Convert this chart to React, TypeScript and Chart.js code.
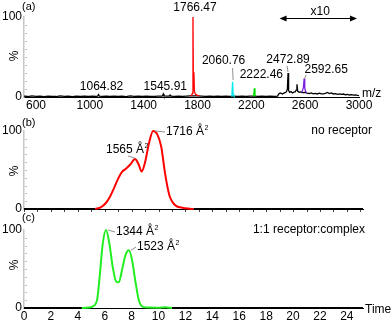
import React, { useEffect, useRef } from "react";
import { Chart, registerables } from "chart.js";

Chart.register(...registerables);

const FONT = "'Liberation Sans', Arial, Helvetica, sans-serif";

// ---------- Panel (a): mass spectrum ----------
const msMz = [
  511, 540, 570, 600, 630, 660, 690, 720, 750, 780,
  810, 840, 870, 900, 930, 960, 990, 1020, 1045, 1058,
  1064.8, 1071, 1090, 1120, 1150, 1180, 1210, 1240, 1270, 1300,
  1330, 1360, 1390, 1420, 1450, 1480, 1510, 1535, 1541, 1545.9,
  1551, 1575, 1590, 1596, 1602, 1630, 1660, 1690, 1720, 1745,
  1770, 1800, 1830, 1860, 1890, 1920, 1950, 1980, 2010, 2040,
  2070, 2100, 2130, 2160, 2190, 2220, 2250, 2280, 2310, 2340,
  2370, 2395, 2405, 2415, 2430, 2445, 2455, 2462, 2468, 2472.9,
  2477, 2485, 2495, 2505, 2515, 2525, 2533, 2539, 2545, 2555,
  2565, 2580, 2600, 2615, 2630, 2645, 2660, 2675, 2690, 2705,
  2720, 2735, 2750, 2765, 2780, 2795, 2810, 2825, 2840, 2855,
  2870, 2885, 2900, 2915, 2930, 2945, 2960, 2975, 2990, 3000,
];
const msInt = [
  1.0, 0.6, 1.3, 0.8, 1.1, 0.5, 1.2, 0.9, 0.6, 1.3,
  0.8, 1.0, 0.5, 1.2, 0.7, 1.1, 0.6, 1.0, 0.9, 1.2,
  3.0, 1.2, 0.7, 1.1, 0.6, 1.2, 0.8, 1.0, 0.5, 1.3,
  0.8, 1.1, 0.6, 1.2, 0.9, 0.7, 1.2, 1.0, 1.5, 3.8,
  1.4, 1.0, 1.2, 2.4, 1.0, 0.7, 1.2, 0.8, 1.1, 1.3,
  1.5, 1.4, 1.0, 0.7, 1.2, 0.8, 1.0, 0.6, 1.1, 0.9,
  1.2, 0.7, 1.1, 0.6, 1.0, 1.2, 0.8, 1.1, 0.6, 1.0,
  0.8, 1.2, 4.0, 5.0, 3.8, 5.2, 5.8, 7.0, 10.0, 30.0,
  8.0, 5.8, 6.8, 5.0, 6.0, 6.3, 8.5, 16.0, 7.0, 5.8,
  6.4, 5.4, 5.8, 4.8, 4.2, 5.0, 4.0, 4.6, 3.8, 4.8,
  4.0, 3.9, 4.5, 5.6, 4.2, 5.0, 3.8, 4.3, 3.4, 3.9,
  3.2, 3.7, 2.8, 3.3, 2.5, 3.0, 2.3, 2.7, 2.0, 1.6,
];
const redMz = [1748, 1758, 1763, 1766.47, 1769.5, 1773.5, 1777, 1785, 1800, 1815];
const redInt = [1.3, 2.5, 5, 100, 12, 31, 7, 3.5, 2, 1.4];
const cyanMz = [2050, 2056, 2060.76, 2065, 2071];
const cyanInt = [1.0, 3, 19, 3, 1.0];
const greenMz = [2212, 2218, 2222.46, 2227, 2233];
const greenInt = [1.1, 2.5, 11, 2.5, 1.0];
const purpleMz = [2575, 2582, 2587, 2592.65, 2597, 2603, 2612];
const purpleInt = [6.0, 9, 12, 23, 11, 7, 5.5];

const msTicks = [600, 1000, 1400, 1800, 2200, 2600, 3000];
const peakMz = [1064.82, 1545.91, 1766.47, 2060.76, 2222.46, 2472.89, 2592.65];
const peakText = ["1064.82", "1545.91", "1766.47", "2060.76", "2222.46", "2472.89", "2592.65"];
const zoomText = "x10";
const zoomRange = [2410, 2985];

// ---------- Panel (b): no receptor ----------
const timeB = [5.3, 5.7, 6.1, 6.4, 6.7, 7.0, 7.3, 7.6, 7.9, 8.25, 8.5, 8.75, 9.0, 9.3, 9.6, 9.9, 10.2, 10.5, 10.8, 11.0, 11.3, 11.7, 12.2, 12.6];
const intB = [0, 2, 8, 16, 27, 39, 48, 52, 57, 64, 58, 48, 60, 85, 100, 96, 80, 44, 18, 10, 4, 2, 0.5, 0];
const areaB = ["1565", "1716"];
const areaBAt = [8.25, 9.6];
const captionB = "no receptor";

// ---------- Panel (c): 1:1 receptor:complex ----------
const timeC = [4.3, 4.8, 5.2, 5.45, 5.65, 5.85, 6.1, 6.35, 6.6, 6.85, 7.05, 7.3, 7.55, 7.8, 8.05, 8.3, 8.55, 8.85, 9.3, 10.0, 10.5, 11.0];
const intC = [0, 0.5, 3, 12, 45, 82, 100, 82, 52, 34, 33, 50, 68, 74, 60, 32, 9, 1.5, 0.5, 0.3, 1, 0];
const areaC = ["1344", "1523"];
const areaCAt = [6.1, 7.8];
const captionC = "1:1 receptor:complex";

const timeTicks = [0, 2, 4, 6, 8, 10, 12, 14, 16, 18, 20, 22, 24];
const timeMax = 25.2;
const yTicks = [0, 100];

// ---------- helpers ----------
const pts = (xs: number[], ys: number[]) => xs.map((x, i) => ({ x, y: ys[i] }));

function txt(ctx: CanvasRenderingContext2D, s: string, x: number, y: number, align: CanvasTextAlign = "left", size = 12) {
  ctx.save();
  ctx.font = `${size}px ${FONT}`;
  ctx.fillStyle = "#000";
  ctx.textAlign = align;
  ctx.textBaseline = "middle";
  ctx.fillText(s, x, y);
  ctx.restore();
}
function areaTxt(ctx: CanvasRenderingContext2D, s: string, x: number, y: number) {
  ctx.save();
  ctx.font = `12px ${FONT}`;
  ctx.fillStyle = "#000";
  ctx.textAlign = "left";
  ctx.textBaseline = "middle";
  const main = s + " Å";
  ctx.fillText(main, x, y);
  const w = ctx.measureText(main).width;
  ctx.font = `7px ${FONT}`;
  ctx.fillText("2", x + w + 0.5, y - 4);
  ctx.restore();
}
function seg(ctx: CanvasRenderingContext2D, x1: number, y1: number, x2: number, y2: number, color = "#909090", w = 1) {
  ctx.save();
  ctx.strokeStyle = color;
  ctx.lineWidth = w;
  ctx.beginPath();
  ctx.moveTo(x1, y1);
  ctx.lineTo(x2, y2);
  ctx.stroke();
  ctx.restore();
}
function pct(ctx: CanvasRenderingContext2D, x: number, y: number) {
  ctx.save();
  ctx.translate(x, y);
  ctx.rotate(-Math.PI / 2);
  ctx.font = `12px ${FONT}`;
  ctx.fillStyle = "#000";
  ctx.textAlign = "center";
  ctx.textBaseline = "middle";
  ctx.fillText("%", 0, 0);
  ctx.restore();
}
function yMinor(ctx: CanvasRenderingContext2D, y: any, left: number) {
  for (let v = 10; v < 100; v += 10) {
    const py = Math.round(y.getPixelForValue(v)) + 0.5;
    seg(ctx, left + 1, py, left + 3, py, "#bdbdbd", 1);
  }
}
function xMinor(ctx: CanvasRenderingContext2D, x: any, bottom: number, from: number, to: number, step: number) {
  for (let v = from; v <= to + 1e-6; v += step) {
    const px = Math.round(x.getPixelForValue(v)) + 0.5;
    seg(ctx, px, bottom + 1, px, bottom + 3, "#444", 1);
  }
}

function yScale(): any {
  return {
    type: "linear",
    min: 0,
    max: 100,
    afterFit: (s: any) => { s.width = 24; },
    afterBuildTicks: (s: any) => { s.ticks = yTicks.map((v) => ({ value: v })); },
    grid: { display: false, drawTicks: false },
    border: { display: true, color: "#c6c6c6", width: 1.5 },
    ticks: { padding: 2, color: "#000", font: { family: FONT, size: 12 }, callback: (v: any) => String(v) },
  };
}
function xScale(min: number, max: number, ticks: number[], h: number, showLabels: boolean): any {
  return {
    type: "linear",
    min,
    max,
    afterFit: (s: any) => { s.height = h; },
    afterBuildTicks: (s: any) => { s.ticks = ticks.map((v) => ({ value: v })); },
    grid: { display: false, drawTicks: false },
    border: { display: true, color: "#000", width: 1 },
    ticks: {
      display: showLabels,
      padding: 1,
      autoSkip: false,
      maxRotation: 0,
      color: "#000",
      font: { family: FONT, size: 12 },
      callback: (v: any) => String(v),
    },
  };
}
function ds(data: any[], color: string, width: number, smooth: boolean): any {
  return {
    data,
    borderColor: color,
    backgroundColor: color,
    borderWidth: width,
    pointRadius: 0,
    fill: false,
    clip: false,
    tension: 0,
    cubicInterpolationMode: smooth ? "monotone" : "default",
  };
}
function baseOpts(padTop: number, padRight: number, padBottom: number, scales: any, plugin: any): any {
  return {
    type: "line",
    options: {
      responsive: false,
      animation: false,
      events: [],
      layout: { padding: { top: padTop, right: padRight, bottom: padBottom, left: 0 } },
      plugins: { legend: { display: false }, tooltip: { enabled: false } },
      scales,
    },
    plugins: [plugin],
  };
}

function configA(): any {
  const cfg = baseOpts(17, 33, 210, { x: xScale(511, 3000, msTicks, 15, true), y: yScale() }, {
    id: "annA",
    afterDraw(chart: any) {
      const { ctx, chartArea: a, scales: { x, y } } = chart;
      yMinor(ctx, y, a.left);
      txt(ctx, "(a)", 22, 7, "left", 11);
      pct(ctx, 15, 56);
      txt(ctx, "m/z", 362, 94, "left", 12);
      const dx = [3, 2, 2, -9, 7, 0, 22];
      const ty = [87, 87, 8, 61, 75, 60, 70];
      peakText.forEach((s, i) => txt(ctx, s, x.getPixelForValue(peakMz[i]) + dx[i], ty[i], "center", 12));
      const p3 = x.getPixelForValue(peakMz[3]);
      seg(ctx, p3, 68, p3 + 0.5, 80);
      const p5 = x.getPixelForValue(peakMz[5]);
      seg(ctx, p5 - 1, 66, p5, 72);
      const p6 = x.getPixelForValue(peakMz[6]);
      seg(ctx, p6 + 2, 75, p6, 79);
      // x10 double arrow
      const ax1 = x.getPixelForValue(zoomRange[0]);
      const ax2 = x.getPixelForValue(zoomRange[1]);
      const ay = 18.5;
      seg(ctx, ax1 + 4, ay, ax2 - 4, ay, "#000", 1);
      ctx.save();
      ctx.fillStyle = "#000";
      ctx.beginPath();
      ctx.moveTo(ax1, ay); ctx.lineTo(ax1 + 7, ay - 3); ctx.lineTo(ax1 + 7, ay + 3); ctx.closePath(); ctx.fill();
      ctx.beginPath();
      ctx.moveTo(ax2, ay); ctx.lineTo(ax2 - 7, ay - 3); ctx.lineTo(ax2 - 7, ay + 3); ctx.closePath(); ctx.fill();
      ctx.restore();
      txt(ctx, zoomText, (ax1 + ax2) / 2 + 2, 12, "center", 12);
    },
  });
  cfg.data = {
    datasets: [
      ds(pts(redMz, redInt), "#ff0000", 1.3, false),
      ds(pts(cyanMz, cyanInt), "#00e8f0", 1.3, false),
      ds(pts(greenMz, greenInt), "#00e000", 1.3, false),
      ds(pts(purpleMz, purpleInt), "#7a1fe0", 1.3, false),
      ds(pts(msMz, msInt), "#000000", 1.3, false),
    ],
  };
  return cfg;
}

function configB(): any {
  const cfg = baseOpts(131, 29, 107, { x: xScale(0, timeMax, timeTicks, 6, false), y: yScale() }, {
    id: "annB",
    afterDraw(chart: any) {
      const { ctx, chartArea: a, scales: { x, y } } = chart;
      yMinor(ctx, y, a.left);
      xMinor(ctx, x, a.bottom, 0, 25, 1);
      txt(ctx, "(b)", 22, 123, "left", 11);
      pct(ctx, 15, 171);
      const i0 = timeB.indexOf(areaBAt[0]);
      const i1 = timeB.indexOf(areaBAt[1]);
      seg(ctx, 128, 156, x.getPixelForValue(areaBAt[0]), y.getPixelForValue(intB[i0]) - 1);
      areaTxt(ctx, areaB[0], 106, 150);
      seg(ctx, x.getPixelForValue(areaBAt[1]) + 2, y.getPixelForValue(intB[i1]), 165, 132);
      areaTxt(ctx, areaB[1], 166, 132);
      txt(ctx, captionB, 372, 131, "right", 12);
    },
  });
  cfg.data = {
    datasets: [
      ds(pts(timeB, intB), "#ff0000", 2, true),
      ds([{ x: 0, y: 0 }, { x: timeB[0], y: 0 }], "#000", 2, false),
      ds([{ x: timeB[timeB.length - 1], y: 0 }, { x: timeMax, y: 0 }], "#000", 2, false),
    ],
  };
  return cfg;
}

function configC(): any {
  const cfg = baseOpts(230, 29, 0, { x: xScale(0, timeMax, timeTicks, 14, true), y: yScale() }, {
    id: "annC",
    afterDraw(chart: any) {
      const { ctx, chartArea: a, scales: { x, y } } = chart;
      yMinor(ctx, y, a.left);
      txt(ctx, "(c)", 22, 218, "left", 11);
      pct(ctx, 15, 265);
      const i0 = timeC.indexOf(areaCAt[0]);
      const i1 = timeC.indexOf(areaCAt[1]);
      seg(ctx, x.getPixelForValue(areaCAt[0]) + 2, y.getPixelForValue(intC[i0]), 115, 232);
      areaTxt(ctx, areaC[0], 116, 232);
      seg(ctx, x.getPixelForValue(areaCAt[1]) + 2, y.getPixelForValue(intC[i1]), 136, 247);
      areaTxt(ctx, areaC[1], 137, 247);
      txt(ctx, captionC, 365, 230, "right", 12);
      txt(ctx, "Time", 365, 310, "left", 12);
    },
  });
  cfg.data = {
    datasets: [
      ds(pts(timeC, intC), "#22ee22", 2, true),
      ds([{ x: 0, y: 0 }, { x: timeC[0], y: 0 }], "#000", 2, false),
      ds([{ x: timeC[timeC.length - 1], y: 0 }, { x: timeMax, y: 0 }], "#000", 2, false),
    ],
  };
  return cfg;
}

const canvasStyle: React.CSSProperties = { position: "absolute", left: 0, top: 0, width: 392, height: 322, display: "block" };

export default function App() {
  const ra = useRef<HTMLCanvasElement>(null);
  const rb = useRef<HTMLCanvasElement>(null);
  const rc = useRef<HTMLCanvasElement>(null);
  useEffect(() => {
    const charts = [
      new Chart(ra.current as HTMLCanvasElement, configA()),
      new Chart(rb.current as HTMLCanvasElement, configB()),
      new Chart(rc.current as HTMLCanvasElement, configC()),
    ];
    return () => charts.forEach((c) => c.destroy());
  }, []);
  return (
    <div style={{ position: "fixed", left: 0, top: 0, width: 392, height: 322, background: "#fff", overflow: "hidden" }}>
      <canvas ref={ra} width={392} height={322} style={canvasStyle} />
      <canvas ref={rb} width={392} height={322} style={canvasStyle} />
      <canvas ref={rc} width={392} height={322} style={canvasStyle} />
    </div>
  );
}
